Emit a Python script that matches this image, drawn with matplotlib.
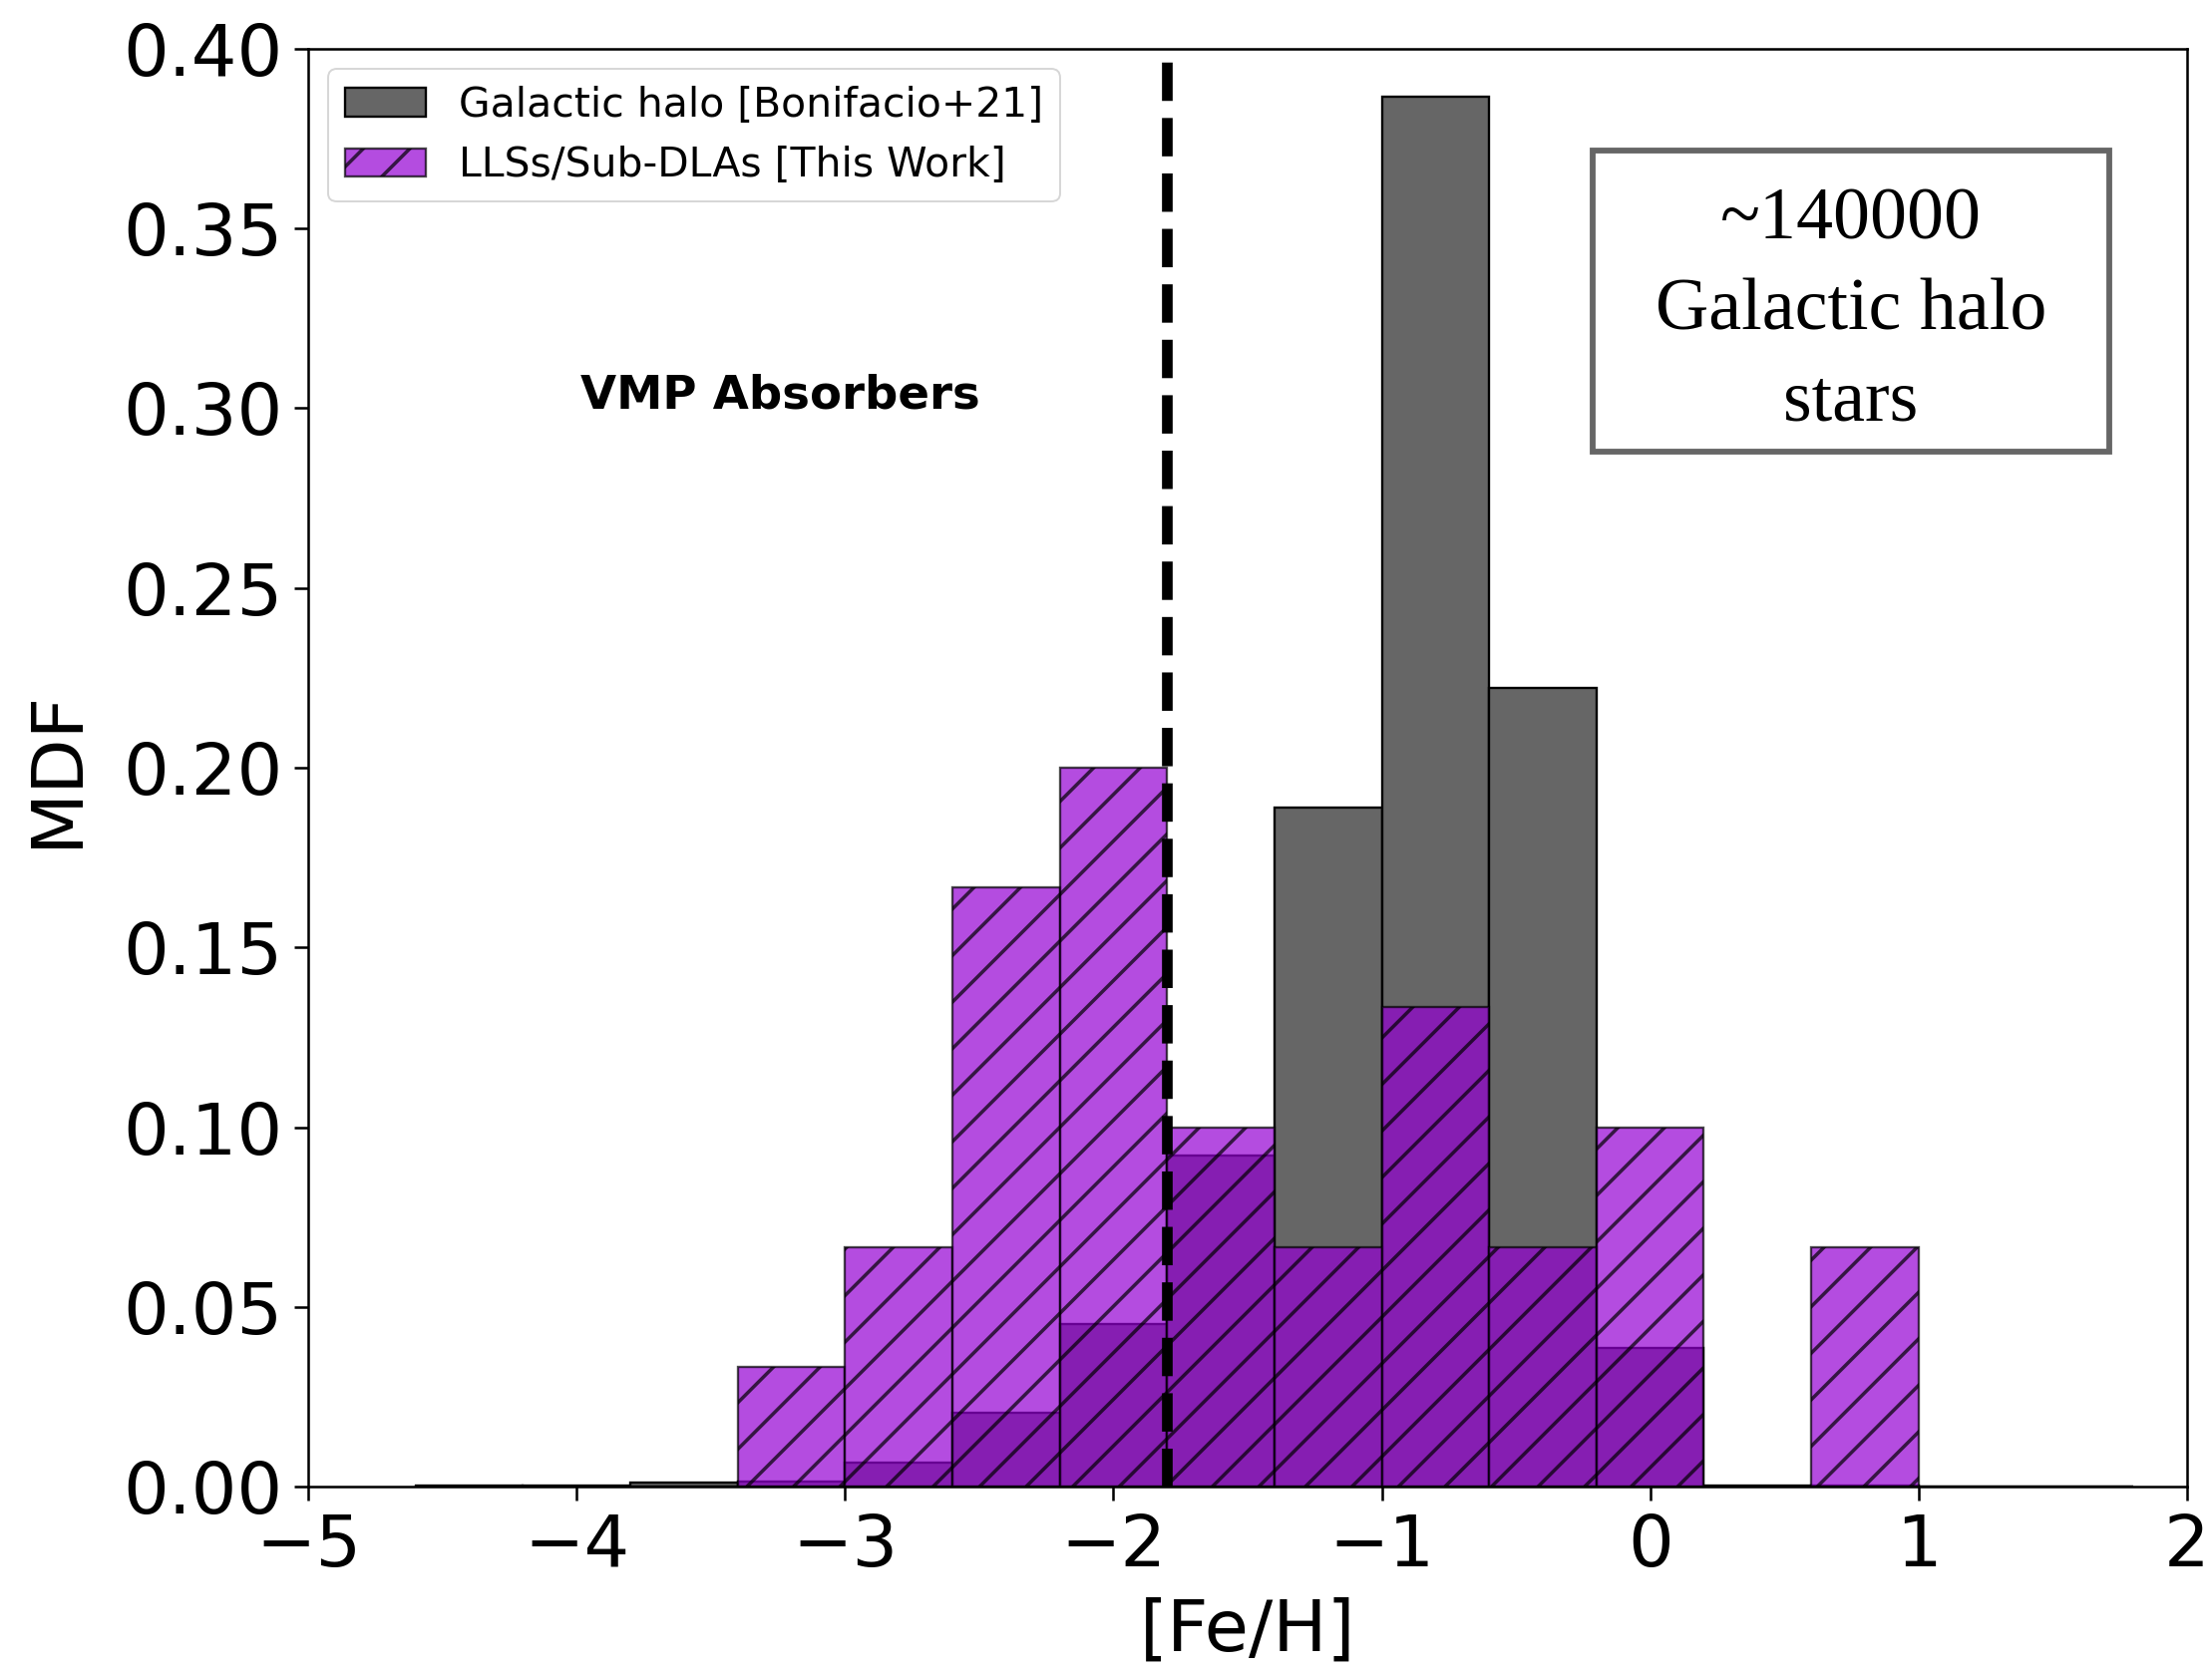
import numpy as np
import matplotlib
matplotlib.use("Agg")
import matplotlib.pyplot as plt
from matplotlib.patches import Rectangle

# ---- data ----
bin_edges = [-4.6, -4.2, -3.8, -3.4, -3.0, -2.6, -2.2, -1.8, -1.4, -1.0,
             -0.6, -0.2, 0.2, 0.6, 1.0, 1.4, 1.8]
halo_mdf = [0.0002, 0.0003, 0.0010, 0.0015, 0.0067, 0.0206, 0.0451, 0.0921,
            0.1888, 0.3867, 0.2222, 0.0385, 0.0003, 0.0002, 0.0001, 0.0001]
absorber_mdf = [0.0, 0.0, 0.0, 0.0333, 0.0667, 0.1667, 0.2000, 0.1000,
                0.0667, 0.1333, 0.0667, 0.1000, 0.0, 0.0667, 0.0, 0.0]
vmp_limit = -1.8
halo_label = "Galactic halo [Bonifacio+21]"
absorber_label = "LLSs/Sub-DLAs [This Work]"
box_text = "~140000\nGalactic halo\nstars"
x_ticks = [-5, -4, -3, -2, -1, 0, 1, 2]
y_ticks = [0.00, 0.05, 0.10, 0.15, 0.20, 0.25, 0.30, 0.35, 0.40]

# ---- figure ----
DPI = 140
plt.rcParams['font.family'] = ['DejaVu Sans']
plt.rcParams['hatch.linewidth'] = 1.8
fig = plt.figure(figsize=(2218 / DPI, 1677 / DPI), dpi=DPI)
ax = fig.add_axes([0.1393, 0.1109, 0.9887 - 0.1393, 0.9708 - 0.1109])

edges = np.array(bin_edges)
centers = 0.5 * (edges[:-1] + edges[1:])

ax.hist(centers, bins=edges, weights=halo_mdf, color='#666666',
        edgecolor='black', linewidth=1.2, label=halo_label)
ax.hist(centers, bins=edges, weights=absorber_mdf, color='darkviolet',
        alpha=0.7, edgecolor='black', linewidth=1.2, hatch='/',
        label=absorber_label)

ax.axvline(vmp_limit, color='black', linestyle=(0, (3.6, 1.6)), linewidth=5.5)

ax.text(-3.24, 0.300, "VMP Absorbers", fontsize=24, fontweight='bold',
        ha='center', va='baseline')

# annotation box
ax.add_patch(Rectangle((0.6837, 0.7198), 0.9586 - 0.6837, 0.9293 - 0.7198,
                       transform=ax.transAxes, facecolor='white',
                       edgecolor='#666666', linewidth=3.0, zorder=5))
ax.text(0.821, 0.817, box_text, transform=ax.transAxes, ha='center',
        va='center', multialignment='center', fontsize=38,
        family=['Liberation Serif', 'DejaVu Serif'], linespacing=1.45,
        zorder=6)

ax.set_xlim(-5, 2)
ax.set_ylim(0, 0.40)
ax.set_xticks(x_ticks)
ax.set_yticks(y_ticks)
ax.set_yticklabels([f"{v:.2f}" for v in y_ticks])
ax.tick_params(axis='both', labelsize=37, length=7.3, width=1.3, pad=6)
for s in ax.spines.values():
    s.set_linewidth(1.3)

ax.set_xlabel("[Fe/H]", fontsize=37, labelpad=8)
ax.set_ylabel("MDF", fontsize=37, labelpad=16)

ax.legend(loc='upper left', fontsize=21)

fig.savefig("out.png", dpi=DPI)
